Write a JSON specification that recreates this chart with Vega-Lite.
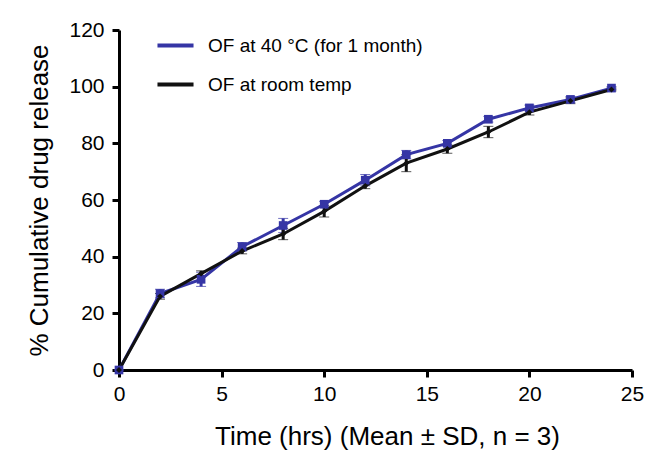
{
  "$schema": "https://vega.github.io/schema/vega-lite/v6.json",
  "autosize": "none",
  "width": 513,
  "height": 340,
  "padding": {"left": 119, "top": 30, "right": 28, "bottom": 92},
  "background": "white",
  "config": {
    "view": {"stroke": null},
    "font": "Liberation Sans",
    "axis": {
      "grid": false,
      "domainColor": "black",
      "domainWidth": 3,
      "tickColor": "black",
      "tickWidth": 3,
      "tickSize": 7,
      "labelFlush": false,
      "labelFont": "Liberation Sans",
      "labelFontSize": 21,
      "labelColor": "black",
      "titleFont": "Liberation Sans",
      "titleFontSize": 26,
      "titleFontWeight": "normal",
      "titleColor": "black"
    }
  },
  "data": {
    "values": [
      {"t": 0, "series": "OF at 40 °C (for 1 month)", "y": 0, "lo": 0, "hi": 0},
      {"t": 2, "series": "OF at 40 °C (for 1 month)", "y": 27, "lo": 25.5, "hi": 28.5},
      {"t": 4, "series": "OF at 40 °C (for 1 month)", "y": 32, "lo": 29.5, "hi": 34.5},
      {"t": 6, "series": "OF at 40 °C (for 1 month)", "y": 43.5, "lo": 42, "hi": 45},
      {"t": 8, "series": "OF at 40 °C (for 1 month)", "y": 51, "lo": 48.5, "hi": 53.5},
      {"t": 10, "series": "OF at 40 °C (for 1 month)", "y": 58.5, "lo": 57.5, "hi": 59.5},
      {"t": 12, "series": "OF at 40 °C (for 1 month)", "y": 67, "lo": 65, "hi": 69},
      {"t": 14, "series": "OF at 40 °C (for 1 month)", "y": 76, "lo": 74.5, "hi": 77.5},
      {"t": 16, "series": "OF at 40 °C (for 1 month)", "y": 80, "lo": 79, "hi": 81},
      {"t": 18, "series": "OF at 40 °C (for 1 month)", "y": 88.5, "lo": 87.5, "hi": 89.5},
      {"t": 20, "series": "OF at 40 °C (for 1 month)", "y": 92.5, "lo": 91.5, "hi": 93.5},
      {"t": 22, "series": "OF at 40 °C (for 1 month)", "y": 95.5, "lo": 94.5, "hi": 96.5},
      {"t": 24, "series": "OF at 40 °C (for 1 month)", "y": 99.5, "lo": 99, "hi": 100},
      {"t": 0, "series": "OF at room temp", "y": 0, "lo": 0, "hi": 0},
      {"t": 2, "series": "OF at room temp", "y": 26, "lo": 25, "hi": 27},
      {"t": 4, "series": "OF at room temp", "y": 34, "lo": 33, "hi": 35},
      {"t": 6, "series": "OF at room temp", "y": 42, "lo": 41, "hi": 43},
      {"t": 8, "series": "OF at room temp", "y": 48, "lo": 46, "hi": 50},
      {"t": 10, "series": "OF at room temp", "y": 56, "lo": 54, "hi": 58},
      {"t": 12, "series": "OF at room temp", "y": 65, "lo": 64, "hi": 66},
      {"t": 14, "series": "OF at room temp", "y": 73, "lo": 70, "hi": 76},
      {"t": 16, "series": "OF at room temp", "y": 78, "lo": 76.5, "hi": 79.5},
      {"t": 18, "series": "OF at room temp", "y": 84, "lo": 82, "hi": 86},
      {"t": 20, "series": "OF at room temp", "y": 91, "lo": 90, "hi": 92},
      {"t": 22, "series": "OF at room temp", "y": 95, "lo": 94, "hi": 96},
      {"t": 24, "series": "OF at room temp", "y": 99, "lo": 98.5, "hi": 99.5}
    ]
  },
  "encoding": {
    "x": {
      "field": "t", "type": "quantitative",
      "scale": {"domain": [0, 25], "nice": false, "zero": true},
      "axis": {"values": [0, 5, 10, 15, 20, 25], "title": "Time (hrs) (Mean ± SD, n = 3)", "labelPadding": 6, "titlePadding": 19, "titleX": 268, "domainWidth": 3, "tickWidth": 3, "labelFlush": false}
    },
    "color": {
      "field": "series", "type": "nominal",
      "scale": {"domain": ["OF at 40 °C (for 1 month)", "OF at room temp"], "range": ["#3535a5", "#111111"]},
      "legend": {
        "orient": "none", "legendX": 36, "legendY": -5,
        "title": null,
        "symbolType": "stroke", "symbolSize": 1300, "symbolStrokeWidth": 4, "symbolOpacity": 1,
        "labelFont": "Liberation Sans", "labelFontSize": 19, "labelColor": "black", "labelLimit": 400,
        "labelOffset": 12, "rowPadding": 8
      }
    }
  },
  "layer": [
    {
      "mark": {"type": "errorbar", "ticks": {"size": 10, "strokeWidth": 3}, "rule": {"strokeWidth": 3}},
      "encoding": {
        "y": {"field": "lo", "type": "quantitative", "title": "% Cumulative drug release"},
        "y2": {"field": "hi"}
      }
    },
    {
      "mark": {"type": "line", "strokeWidth": 3},
      "encoding": {
        "y": {
          "field": "y", "type": "quantitative",
          "title": "% Cumulative drug release",
          "scale": {"domain": [0, 120], "nice": false},
          "axis": {"values": [0, 20, 40, 60, 80, 100, 120], "title": "% Cumulative drug release", "labelPadding": 8, "titlePadding": 16, "domainWidth": 3, "tickWidth": 3}
        }
      }
    },
    {
      "transform": [{"filter": "datum.series === 'OF at 40 °C (for 1 month)'"}],
      "mark": {"type": "point", "filled": true, "opacity": 1, "shape": "square", "size": 75},
      "encoding": {
        "y": {"field": "y", "type": "quantitative", "title": "% Cumulative drug release"}
      }
    },
    {
      "transform": [{"filter": "datum.series === 'OF at room temp'"}],
      "mark": {"type": "point", "filled": true, "opacity": 1, "shape": "diamond", "size": 35},
      "encoding": {
        "y": {"field": "y", "type": "quantitative", "title": "% Cumulative drug release"}
      }
    }
  ]
}
